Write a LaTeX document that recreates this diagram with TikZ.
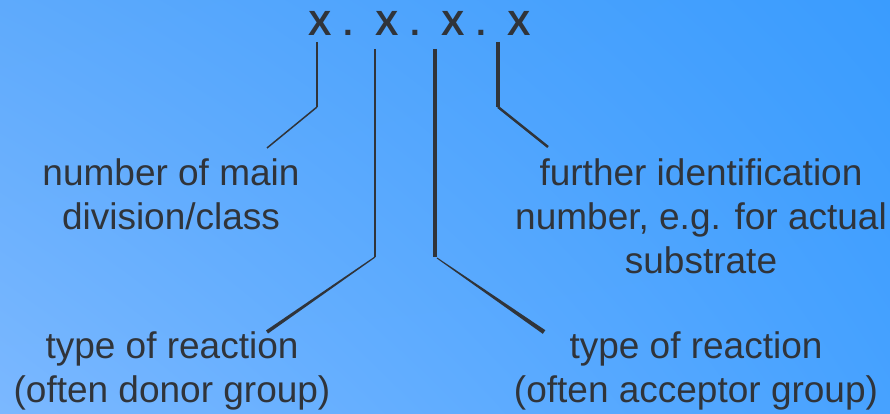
\documentclass[tikz,border=0pt]{standalone}
\usepackage{fontspec}
\setmainfont{Liberation Sans}
\usetikzlibrary{shadings}
\definecolor{bgUL}{HTML}{5EAAFC}
\definecolor{bgUR}{HTML}{3A9CFE}
\definecolor{bgLL}{HTML}{7BB8FF}
\definecolor{bgLR}{HTML}{47A2FF}
\definecolor{ink}{HTML}{30343A}
\tikzset{
  % multi-line labels: the base anchor sits on the last line's baseline
  label/.style={text=ink, align=center, anchor=base, inner sep=0pt,
    font={\fontsize{37}{44}\selectfont}},
  digit/.style={text=ink, anchor=base, inner sep=0pt,
    font={\fontsize{35}{40}\selectfont\bfseries}},
  leader/.style={draw=ink, line cap=butt, line join=miter},
  taper/.style={fill=ink, draw=none}
}
\begin{document}
\begin{tikzpicture}[x=1pt,y=-1pt]
  % background with a soft diagonal gradient
  \shade[upper left=bgUL, upper right=bgUR, lower left=bgLL, lower right=bgLR]
    (0,0) rectangle (890,414);
  \useasboundingbox (0,0) rectangle (890,414);

  % the four fields of the number
  \node[digit] (x1) at (320,36) {X};
  \node[digit] (d1) at (348,36) {.};
  \node[digit] (x2) at (387,36) {X};
  \node[digit] (d2) at (415,36) {.};
  \node[digit] (x3) at (453,36) {X};
  \node[digit] (d3) at (481,36) {.};
  \node[digit] (x4) at (519,36) {X};

  % labels
  \node[label] (main) at (171,229) {number of main\\division/class};
  \node[label] (donor) at (172,402) {type of reaction\\(often donor group)};
  \node[label] (further) at (701,273) {further identification\\number, e.g. for actual\\substrate};
  \node[label] (acceptor) at (696,402) {type of reaction\\(often acceptor group)};

  % leader start points, elbows and tips
  \coordinate (s1) at (317,42);  \coordinate (e1) at (317,107); \coordinate (t1) at (267,148);
  \coordinate (s2) at (375,49);  \coordinate (e2) at (375,257);
  \coordinate (s3) at (435,49);  \coordinate (e3) at (435,257);
  \coordinate (s4) at (498,42);  \coordinate (e4) at (498,107); \coordinate (t4) at (548,147);

  % first field
  \draw[leader, line width=2pt] (s1) -- (e1);
  \draw[leader, line width=1.5pt] (e1) -- (t1);
  % second field
  \draw[leader, line width=1.8pt] (s2) -- (e2);
  \fill[taper] (375.3,257.5) -- (374.7,256.5) -- (266.0,330.5) -- (268.0,333.5) -- cycle;
  % third field
  \draw[leader, line width=4.7pt] (s3) -- (e3);
  \fill[taper] (436.7,258.4) -- (437.3,257.6) -- (545.3,330.2) -- (542.8,333.8) -- cycle;
  % fourth field
  \draw[leader, line width=4.5pt] (s4) -- (e4);
  \draw[leader, line width=2.5pt] (e4) -- (t4);
\end{tikzpicture}
\end{document}
